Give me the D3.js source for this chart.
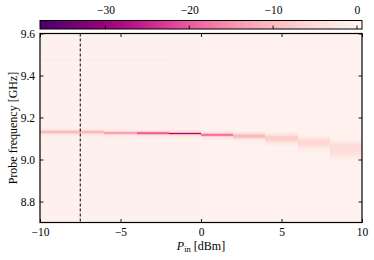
<!DOCTYPE html>
<html lang="en">
<head>
<meta charset="UTF-8">
<title>Probe frequency vs input power</title>
<style>
  body { margin: 0; background: #fff; }
  svg { display: block; }
  svg text { font-family: "Liberation Serif", "Times New Roman", serif; fill: #000; }
  .tick text { font-size: 11.5px; }
</style>
</head>
<body>
<svg width="374" height="260"></svg>
<script src="https://d3js.org/d3.v7.min.js"></script>
<script>
// input power columns (dBm), each 2 dBm wide
const pIn = [-9, -7, -5, -3, -1, 1, 3, 5, 7, 9];
// background level of each column (dB)
const bgLevel = [-0.9, -0.8, -0.7, -0.7, -0.7, -0.6, -0.6, -0.6, -0.6, -0.6];
// resonance dip: first frequency (GHz) of each column, then values every 5 MHz
const freqStep = 0.005;
const dipStart = [9.110, 9.110, 9.105, 9.105, 9.105, 9.095, 9.085, 9.065, 9.040, 9.000];
const dipValues = [
  [-1.3, -1.8, -3.0, -6.0, -10.0, -10.5, -6.0, -2.8, -1.5],
  [-1.3, -1.8, -3.0, -6.5, -10.5, -10.5, -5.5, -2.4, -1.4],
  [-1.3, -1.7, -2.6, -5.5, -13.0, -13.5, -5.5, -2.4, -1.5],
  [-1.3, -1.8, -3.5, -10.0, -20.0, -18.5, -7.0, -2.5, -1.4],
  [-1.4, -2.2, -4.5, -11.0, -30.0, -10.0, -4.5, -2.4, -1.6],
  [-1.3, -1.8, -3.0, -7.0, -17.0, -18.0, -9.0, -3.4, -1.9, -1.4],
  [-1.3, -1.7, -2.8, -5.0, -8.5, -10.5, -10.5, -7.5, -4.4, -2.4, -1.5],
  [-1.2, -1.6, -2.3, -3.4, -4.8, -6.2, -7.2, -7.6, -7.6, -6.6, -4.8, -3.0, -1.9, -1.3],
  [-1.1, -1.4, -2.0, -2.7, -3.5, -4.4, -5.2, -5.8, -6.0, -5.8, -5.2, -4.4, -3.3, -2.4, -1.6, -1.2],
  [-1.2, -1.5, -1.9, -2.4, -2.9, -3.4, -3.9, -4.4, -4.7, -4.9, -5.0, -5.0, -4.9, -4.6, -4.1, -3.4, -2.7, -2.0, -1.5, -1.2]
];
// faint second mode
const faintFreq = 9.475;
const faintValues = [-2.8, -2.6, -2.4, -2.2, -2.0, -1.7, -1.4, -1.0, -0.8, -0.7];
const markerP = -7.5;

const xTicks = [-10, -5, 0, 5, 10];
const yTicks = [8.8, 9.0, 9.2, 9.4, 9.6];
const cbarTicks = [-30, -20, -10, 0];
const cbarRange = [-37.8, 0.6];

const svg = d3.select("svg");
const x = d3.scaleLinear().domain([-10, 10]).range([40, 362]);
const y = d3.scaleLinear().domain([8.7, 9.6]).range([222.5, 33.5]);
const color = d3.scaleSequential(t => d3.interpolateRdPu(1 - t)).domain(cbarRange);

// heatmap
const plot = svg.append("g").attr("shape-rendering", "crispEdges");
plot.selectAll(".bg")
  .data(pIn)
  .join("rect")
  .attr("x", d => x(d - 1))
  .attr("width", d => x(d + 1) - x(d - 1))
  .attr("y", y(9.6))
  .attr("height", y(8.7) - y(9.6))
  .attr("fill", (d, i) => color(bgLevel[i]));

const cells = [];
pIn.forEach((p, i) => {
  dipValues[i].forEach((v, k) => cells.push({ p, f: dipStart[i] + k * freqStep, v }));
  cells.push({ p, f: faintFreq, v: faintValues[i] });
});
plot.selectAll(".cell")
  .data(cells)
  .join("rect")
  .attr("x", d => x(d.p - 1))
  .attr("width", d => x(d.p + 1) - x(d.p - 1))
  .attr("y", d => y(d.f + freqStep / 2))
  .attr("height", d => y(d.f - freqStep / 2) - y(d.f + freqStep / 2))
  .attr("fill", d => color(d.v));

// dashed marker
svg.append("line")
  .attr("x1", x(markerP)).attr("x2", x(markerP))
  .attr("y1", y(9.6)).attr("y2", y(8.7))
  .attr("stroke", "#000").attr("stroke-width", 1)
  .attr("stroke-dasharray", "3,2");

// axes with inward ticks on all sides
const fmtX = d3.format("d");
const fmtY = d3.format(".1f");
svg.append("g").attr("transform", `translate(0,${y(8.7)})`)
  .call(d3.axisBottom(x).tickValues(xTicks).tickFormat(fmtX).tickSizeInner(-3.5).tickSizeOuter(0).tickPadding(5));
svg.append("g").attr("transform", `translate(0,${y(9.6)})`)
  .call(d3.axisTop(x).tickValues(xTicks).tickFormat("").tickSizeInner(-3.5).tickSizeOuter(0));
svg.append("g").attr("transform", `translate(${x(-10)},0)`)
  .call(d3.axisLeft(y).tickValues(yTicks).tickFormat(fmtY).tickSizeInner(-3.5).tickSizeOuter(0).tickPadding(5));
svg.append("g").attr("transform", `translate(${x(10)},0)`)
  .call(d3.axisRight(y).tickValues(yTicks).tickFormat("").tickSizeInner(-3.5).tickSizeOuter(0));
svg.selectAll(".domain").remove();
svg.selectAll(".tick line").attr("stroke", "#000").attr("stroke-width", 0.9);

svg.append("rect")
  .attr("x", x(-10)).attr("y", y(9.6))
  .attr("width", x(10) - x(-10)).attr("height", y(8.7) - y(9.6))
  .attr("fill", "none").attr("stroke", "#000").attr("stroke-width", 1.2);

// axis labels
const xl = svg.append("text")
  .attr("x", (x(-10) + x(10)) / 2).attr("y", 250)
  .attr("text-anchor", "middle").attr("font-size", 12);
xl.append("tspan").attr("font-style", "italic").text("P");
xl.append("tspan").attr("font-size", 8.5).attr("dy", 2).text("in");
xl.append("tspan").attr("dy", -2).text(" [dBm]");

svg.append("text")
  .attr("transform", `translate(17,${(y(8.7) + y(9.6)) / 2}) rotate(-90)`)
  .attr("text-anchor", "middle").attr("font-size", 12)
  .text("Probe frequency [GHz]");

// colorbar
const cx = d3.scaleLinear().domain(cbarRange).range([40, 362]);
const grad = svg.append("defs").append("linearGradient").attr("id", "cbar");
d3.range(0, 1.0001, 0.05).forEach(t => {
  grad.append("stop").attr("offset", t).attr("stop-color", color(cbarRange[0] + t * (cbarRange[1] - cbarRange[0])));
});
const cbTop = 20.5, cbH = 8.5;
svg.append("rect")
  .attr("x", cx(cbarRange[0])).attr("y", cbTop)
  .attr("width", cx(cbarRange[1]) - cx(cbarRange[0])).attr("height", cbH)
  .attr("fill", "url(#cbar)").attr("stroke", "#000").attr("stroke-width", 1);
const cb = svg.append("g").attr("transform", `translate(0,${cbTop})`)
  .call(d3.axisTop(cx).tickValues(cbarTicks).tickFormat(fmtX).tickSize(0).tickPadding(7));
cb.select(".domain").remove();
svg.selectAll(".cbtick")
  .data(cbarTicks)
  .join("line")
  .attr("x1", d => cx(d)).attr("x2", d => cx(d))
  .attr("y1", cbTop + cbH).attr("y2", cbTop + cbH - 3.5)
  .attr("stroke", "#000").attr("stroke-width", 0.9);
</script>
</body>
</html>
